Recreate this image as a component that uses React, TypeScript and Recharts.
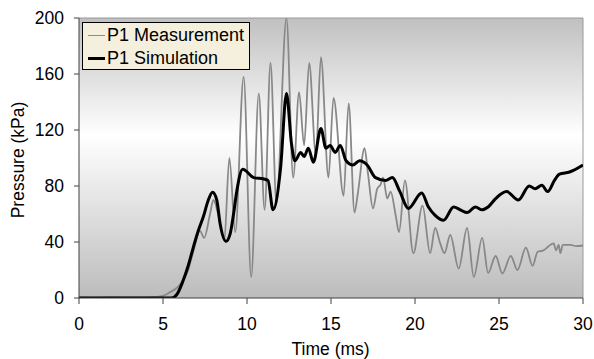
import React from 'react';
import { LineChart, Line, XAxis, YAxis, CartesianGrid, Legend, ReferenceLine, Label } from 'recharts';

const measTime = [0, 1, 2, 3, 4, 4.6, 5.0, 5.4, 5.85, 6.2, 6.5, 6.8, 7.2, 7.45, 7.8, 8.0, 8.3, 8.65, 8.95, 9.3, 9.8, 10.25, 10.7, 11.05, 11.4, 11.75, 12.35, 12.75, 13.1, 13.4, 13.7, 14.1, 14.4, 14.85, 15.15, 15.75, 16.05, 16.4, 16.6, 17.0, 17.2, 17.5, 17.75, 17.95, 18.1, 18.35, 18.55, 18.85, 19.05, 19.4, 19.9, 20.45, 20.9, 21.2, 21.5, 21.75, 22.1, 22.6, 23.1, 23.5, 24.0, 24.35, 24.8, 25.2, 25.7, 26.1, 26.6, 27.0, 27.3, 27.65, 27.95, 28.25, 28.4, 28.55, 28.65, 28.8, 29.25, 29.6, 30];
const measValue = [0.5, 0.3, 0.6, 0.4, 0.5, 0.8, 1.5, 4, 7.5, 12.5, 20, 33, 48, 43, 60, 70, 59, 41, 100, 47, 158, 15, 146, 63, 168, 68, 200, 86, 147, 109, 168, 102, 172, 86, 143, 73, 139, 61, 75, 107, 89, 64, 78, 81, 86, 71, 76, 59, 47, 84, 32, 66, 32, 50, 39, 32, 45, 21, 50, 15, 43, 18, 30, 17.5, 30, 20, 36, 23, 33, 34, 37, 39, 34, 38, 32, 38, 38, 37, 37.5];

const simTime = [0, 5.5, 5.85, 6.2, 6.5, 6.8, 7.1, 7.4, 7.7, 7.95, 8.2, 8.4, 8.75, 9.0, 9.2, 9.4, 9.75, 10.4, 11.0, 11.25, 11.55, 12.0, 12.35, 12.65, 12.85, 13.2, 13.4, 13.65, 13.95, 14.4, 14.7, 14.95, 15.25, 15.55, 15.9, 16.3, 16.7, 17.15, 17.65, 18.25, 18.65, 19.1, 19.6, 20.4, 20.8, 21.2, 21.7, 22.3, 22.7, 23.1, 23.6, 24.0, 24.35, 24.8, 25.45, 26.15, 26.8, 27.15, 27.55, 27.9, 28.3, 28.6, 29.2, 30];
const simValue = [0, 0, 3, 12.5, 23, 36, 48, 58, 70, 75.5, 70, 53, 40.5, 46, 60, 77, 92, 86, 85, 84, 63, 93, 146, 110, 98, 104, 101, 107, 97, 121, 107, 109, 104, 109, 98, 95, 98, 95, 86, 84, 86, 76, 64, 75, 65, 59, 55.5, 65, 63, 61, 65, 63, 65, 71, 76, 70, 80, 78, 80.5, 76, 84, 88.5, 90, 95];

const xTicks = [0, 5, 10, 15, 20, 25, 30];
const yTicks = [0, 40, 80, 120, 160, 200];

const measData = measTime.map((t, i) => ({ t, v: measValue[i] }));
const simData = simTime.map((t, i) => ({ t, v: simValue[i] }));

const FONT = '"Liberation Sans", Arial, Helvetica, sans-serif';

const renderLegend = () => (
  <div
    style={{
      width: 166,
      height: 46,
      background: '#f4f0dd',
      border: '1px solid #000',
      fontFamily: FONT,
      fontSize: 18,
      color: '#000',
      boxSizing: 'content-box',
      whiteSpace: 'nowrap',
    }}
  >
    <div style={{ display: 'flex', alignItems: 'center', height: 23, marginTop: 1 }}>
      <div style={{ width: 17, height: 0, borderTop: '1.5px solid #8c8c8c', marginLeft: 5, marginRight: 2 }} />
      <span>P1 Measurement</span>
    </div>
    <div style={{ display: 'flex', alignItems: 'center', height: 23 }}>
      <div style={{ width: 17, height: 0, borderTop: '3px solid #000', marginLeft: 5, marginRight: 2 }} />
      <span>P1 Simulation</span>
    </div>
  </div>
);

export default function App() {
  return (
    <div style={{ position: 'absolute', left: 0, top: 0, width: 594, height: 359, background: '#fff' }}>
      <LineChart width={594} height={359} margin={{ top: 18, right: 11, bottom: 21, left: 0 }}>
        <defs>
          <linearGradient id="bgGrad" x1="0" y1="0" x2="0" y2="1">
            <stop offset="0%" stopColor="#c0c0c0" />
            <stop offset="42%" stopColor="#ffffff" />
            <stop offset="100%" stopColor="#bcbcbc" />
          </linearGradient>
        </defs>
        <CartesianGrid horizontal={false} vertical={false} fill="url(#bgGrad)" fillOpacity={1} />
        <XAxis
          type="number"
          dataKey="t"
          domain={[0, 30]}
          ticks={xTicks}
          allowDataOverflow
          height={40}
          tickSize={6}
          tickMargin={14}
          axisLine={{ stroke: '#404040' }}
          tickLine={{ stroke: '#404040' }}
          tick={{ fill: '#000', fontSize: 17.5, fontFamily: FONT }}
        >
          <Label
            content={() => (
              <text x={330.6} y={355} textAnchor="middle" fontSize={17.5} fontFamily={FONT} fill="#000">
                Time (ms)
              </text>
            )}
          />
        </XAxis>
        <YAxis
          type="number"
          domain={[0, 200]}
          ticks={yTicks}
          allowDataOverflow
          width={79}
          tickSize={5}
          tickMargin={10}
          axisLine={{ stroke: '#404040' }}
          tickLine={{ stroke: '#404040' }}
          tick={{ fill: '#000', fontSize: 17.5, fontFamily: FONT }}
        >
          <Label
            content={() => (
              <text
                x={18}
                y={160}
                transform="rotate(-90 18 160)"
                textAnchor="middle"
                dominantBaseline="central"
                fontSize={17.5}
                fontFamily={FONT}
                fill="#000"
              >
                Pressure (kPa)
              </text>
            )}
          />
        </YAxis>
        <ReferenceLine y={200} stroke="#9a9a9a" strokeWidth={1} />
        <ReferenceLine x={30} stroke="#9a9a9a" strokeWidth={1} />
        <Legend
          layout="vertical"
          align="center"
          verticalAlign="middle"
          wrapperStyle={{ position: 'absolute', left: 82, top: 22, width: 168, height: 48 }}
          content={renderLegend}
        />
        <Line
          data={measData}
          dataKey="v"
          name="P1 Measurement"
          type="monotone"
          stroke="#888888"
          strokeWidth={1.8}
          dot={false}
          activeDot={false}
          isAnimationActive={false}
        />
        <Line
          data={simData}
          dataKey="v"
          name="P1 Simulation"
          type="monotone"
          stroke="#000"
          strokeWidth={3}
          dot={false}
          activeDot={false}
          isAnimationActive={false}
        />
      </LineChart>
    </div>
  );
}
